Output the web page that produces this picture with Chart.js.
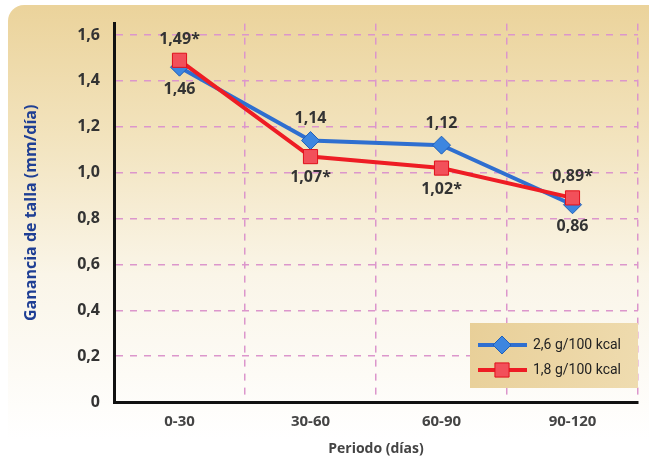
<!DOCTYPE html>
<html>
<head>
<meta charset="utf-8">
<script src="https://cdn.jsdelivr.net/npm/chart.js@4"></script>
<style>
  html, body { margin: 0; padding: 0; background: #ffffff; }
  #wrap { width: 649px; height: 457px; position: relative; }
</style>
</head>
<body>
<div id="wrap"><canvas id="c" width="649" height="457"></canvas></div>
<script>
// Periods (days) and mean height gain (mm/day) for the two protein levels
const periods = ['0-30', '30-60', '60-90', '90-120'];
const gainHigh = [1.46, 1.14, 1.12, 0.86];   // 2,6 g/100 kcal
const gainLow  = [1.49, 1.07, 1.02, 0.89];   // 1,8 g/100 kcal
const lowSignificant = [true, true, true, true];
const seriesNames = ['2,6 g/100 kcal', '1,8 g/100 kcal'];
const yTicks = [0, 0.2, 0.4, 0.6, 0.8, 1.0, 1.2, 1.4, 1.6];

const BLUE = '#2f6fd0';
const RED = '#ee1c24';
const GRID = '#dc96cc';
const FONT = '"Open Sans", "Noto Sans", sans-serif';

const fmt = v => (v === 0 ? '0' : v.toFixed(Math.round(v * 100) % 10 === 0 ? 1 : 2).replace('.', ','));

// Beige rounded panel fading to white
const panelBg = {
  id: 'panelBg',
  beforeDraw(chart) {
    const ctx = chart.ctx;
    ctx.save();
    const g = ctx.createLinearGradient(0, 5, 0, 440);
    g.addColorStop(0, '#ebd39b');
    g.addColorStop(0.3, '#f2e3bd');
    g.addColorStop(0.62, '#faf5e8');
    g.addColorStop(1, '#ffffff');
    ctx.fillStyle = g;
    ctx.beginPath();
    ctx.roundRect(8, 5, 660, 470, 16);
    ctx.fill();
    ctx.restore();
  }
};

// Value labels above/below each point
const valueLabels = {
  id: 'valueLabels',
  afterDatasetsDraw(chart) {
    const ctx = chart.ctx;
    ctx.save();
    ctx.font = 'bold 16px ' + FONT;
    ctx.fillStyle = '#333333';
    ctx.textAlign = 'center';
    const blue = chart.getDatasetMeta(1).data;
    const red = chart.getDatasetMeta(0).data;
    periods.forEach((p, i) => {
      const redAbove = gainLow[i] > gainHigh[i];
      const tRed = fmt(gainLow[i]) + (lowSignificant[i] ? '*' : '');
      const tBlue = fmt(gainHigh[i]);
      ctx.textBaseline = redAbove ? 'bottom' : 'top';
      ctx.fillText(tRed, red[i].x, red[i].y + (redAbove ? -13 : 13));
      ctx.textBaseline = redAbove ? 'top' : 'bottom';
      ctx.fillText(tBlue, blue[i].x, blue[i].y + (redAbove ? 14 : -14));
    });
    ctx.restore();
  }
};

// Legend box inside the plot, bottom right
const legendBox = {
  id: 'legendBox',
  afterDraw(chart) {
    const ctx = chart.ctx;
    ctx.save();
    const x0 = 470, y0 = 323, w = 168, h = 65;
    const g = ctx.createLinearGradient(x0, y0, x0 + w, y0 + h);
    g.addColorStop(0, '#e8cf98');
    g.addColorStop(1, '#efdcb0');
    ctx.fillStyle = g;
    ctx.fillRect(x0, y0, w, h);
    const rows = [
      { y: 345, color: BLUE, shape: 'rectRot', r: 9, fill: '#3d86e0', border: '#1f5fb8', label: seriesNames[0] },
      { y: 370, color: RED, shape: 'rect', r: 10, fill: '#f2505a', border: '#e0101c', label: seriesNames[1] }
    ];
    rows.forEach(rw => {
      ctx.strokeStyle = rw.color;
      ctx.lineWidth = 4;
      ctx.beginPath();
      ctx.moveTo(478, rw.y);
      ctx.lineTo(527, rw.y);
      ctx.stroke();
      ctx.fillStyle = rw.fill;
      ctx.strokeStyle = rw.border;
      ctx.lineWidth = 1;
      Chart.helpers.drawPoint(ctx, { pointStyle: rw.shape, radius: rw.r, borderWidth: 1 }, 502, rw.y);
      ctx.fillStyle = '#222222';
      ctx.font = '14px "Roboto", sans-serif';
      ctx.textAlign = 'left';
      ctx.textBaseline = 'middle';
      ctx.fillText(rw.label, 533, rw.y);
    });
    ctx.restore();
  }
};

new Chart(document.getElementById('c'), {
  type: 'line',
  data: {
    labels: periods,
    datasets: [
      {
        label: seriesNames[1],
        data: gainLow,
        borderColor: RED,
        borderWidth: 4,
        pointStyle: 'rect',
        pointRadius: 10,
        pointBackgroundColor: '#f2505a',
        pointBorderColor: '#e0101c',
        pointBorderWidth: 1,
        tension: 0,
        order: 0
      },
      {
        label: seriesNames[0],
        data: gainHigh,
        borderColor: BLUE,
        borderWidth: 4,
        pointStyle: 'rectRot',
        pointRadius: 9,
        pointBackgroundColor: '#3d86e0',
        pointBorderColor: '#1f5fb8',
        pointBorderWidth: 1,
        tension: 0,
        order: 1
      }
    ]
  },
  options: {
    responsive: false,
    animation: false,
    layout: { padding: { left: 22, right: 8, top: 19, bottom: 0 } },
    plugins: {
      legend: { display: false },
      tooltip: { enabled: false }
    },
    scales: {
      x: {
        offset: true,
        grid: {
          offset: true,
          color: GRID,
          lineWidth: 1.5,
          drawTicks: false
        },
        border: { display: true, color: '#111111', width: 3, dash: [7, 7] },
        ticks: {
          color: '#444444',
          font: { family: FONT, size: 15, weight: 'bold' },
          padding: 11
        },
        title: {
          display: true,
          text: 'Periodo (días)',
          color: '#444444',
          font: { family: FONT, size: 14, weight: 'bold' },
          padding: { top: 4, bottom: 0 }
        },
        afterFit(scale) { scale.height = 55; }
      },
      y: {
        min: 0,
        max: 1.65,
        afterBuildTicks(scale) {
          scale.ticks = yTicks.map(v => ({ value: v }));
        },
        grid: {
          color: ctx => (ctx.tick && ctx.tick.value === 0 ? 'rgba(0,0,0,0)' : GRID),
          lineWidth: 1.5,
          drawTicks: false
        },
        border: { display: true, color: '#111111', width: 3, dash: [7, 7] },
        ticks: {
          color: '#333333',
          font: { family: FONT, size: 16, weight: 'bold' },
          padding: 14,
          callback: v => fmt(v)
        },
        title: {
          display: true,
          text: 'Ganancia de talla (mm/día)',
          color: '#1f3f94',
          font: { family: FONT, size: 16, weight: 'bold' },
          padding: 0
        },
        afterFit(scale) { scale.width = 92; }
      }
    }
  },
  plugins: [panelBg, valueLabels, legendBox]
});
</script>
</body>
</html>
